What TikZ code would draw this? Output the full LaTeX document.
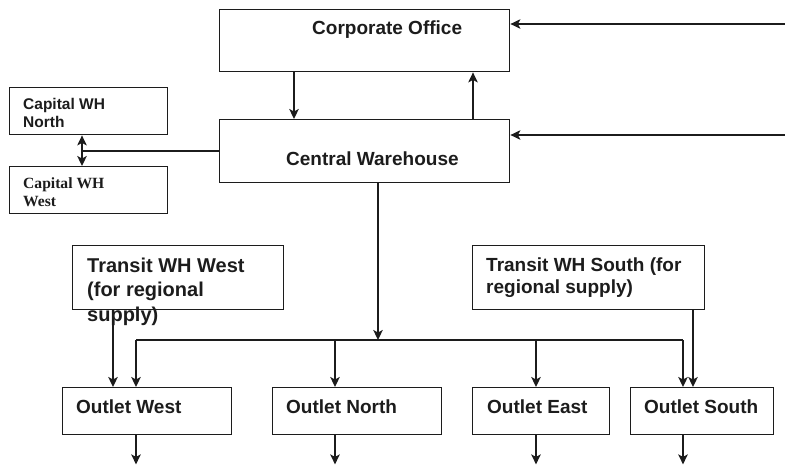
\documentclass[tikz,border=0pt]{standalone}
\usepackage{fontspec}
\setmainfont{Liberation Sans}
\newfontfamily\capserif{Liberation Serif}
\usetikzlibrary{arrows.meta}
\definecolor{ink}{HTML}{1c1c1c}
\begin{document}
\begin{tikzpicture}[x=1pt,y=-1pt,
  box/.style={draw=ink,line width=1.4pt,rectangle,inner sep=0pt,anchor=north west},
  lbl/.style={inner sep=0pt,anchor=base west,text=ink,font=\bfseries},
  link/.style={draw=ink,line width=1.5pt},
  arr/.style={link,-{Stealth[length=10pt,width=9.5pt,inset=2.5pt]}},
  dblarr/.style={link,{Stealth[length=9pt,width=9.5pt,inset=2.5pt]}-{Stealth[length=9pt,width=9.5pt,inset=2.5pt]}}]
\useasboundingbox (0,0) rectangle (785,464);

% boxes
\node[box,minimum width=290pt,minimum height=62pt] (co)  at (219,9)   {};
\node[box,minimum width=290pt,minimum height=63pt] (cw)  at (219,119) {};
\node[box,minimum width=158pt,minimum height=47pt] (cwn) at (9,87)    {};
\node[box,minimum width=158pt,minimum height=47pt] (cww) at (9,166)   {};
\node[box,minimum width=211pt,minimum height=64pt] (tww) at (72,245)  {};
\node[box,minimum width=232pt,minimum height=64pt] (tws) at (472,245) {};
\node[box,minimum width=169pt,minimum height=47pt] (ow)  at (62,387)  {};
\node[box,minimum width=169pt,minimum height=47pt] (on)  at (272,387) {};
\node[box,minimum width=137pt,minimum height=47pt] (oe)  at (472,387) {};
\node[box,minimum width=143pt,minimum height=47pt] (os)  at (630,387) {};

% labels
\node[lbl,font=\bfseries\fontsize{19}{22}\selectfont] (tco) at (312,34)  {Corporate Office};
\node[lbl,font=\bfseries\fontsize{19}{22}\selectfont] (tcw) at (286,165) {Central Warehouse};
\node[lbl,font=\bfseries\fontsize{15.5}{18}\selectfont] (tcwn) at (23,109)
  {\begin{tabular}[t]{@{}l@{}}Capital WH\\North\end{tabular}};
\node[lbl,font=\capserif\bfseries\fontsize{15.6}{18}\selectfont] (tcww) at (23,188)
  {\begin{tabular}[t]{@{}l@{}}Capital WH\\West\end{tabular}};
\node[lbl,font=\bfseries\fontsize{20}{24.5}\selectfont] (ttww) at (87,272)
  {\begin{tabular}[t]{@{}l@{}}Transit WH West\\(for regional\\supply)\end{tabular}};
\node[lbl,font=\bfseries\fontsize{19}{22}\selectfont] (ttws) at (486,271)
  {\begin{tabular}[t]{@{}l@{}}Transit WH South (for\\regional supply)\end{tabular}};
\node[lbl,font=\bfseries\fontsize{19}{22}\selectfont] (tow) at (76,413)  {Outlet West};
\node[lbl,font=\bfseries\fontsize{19}{22}\selectfont] (ton) at (286,413) {Outlet North};
\node[lbl,font=\bfseries\fontsize{19}{22}\selectfont] (toe) at (487,413) {Outlet East};
\node[lbl,font=\bfseries\fontsize{19}{22}\selectfont] (tos) at (644,413) {Outlet South};

% reference points for connectors
\coordinate (inCO) at (785,24);
\coordinate (inCW) at (785,135);
\coordinate (hub)  at (82,151);
\coordinate (busC) at (378,340);
\coordinate (busW) at (136,340);
\coordinate (busN) at (335,340);
\coordinate (busE) at (536,340);
\coordinate (busS) at (683,340);
\coordinate (twwX) at (113,0);
\coordinate (twsX) at (693,0);
\coordinate (coDn) at (294,0);
\coordinate (coUp) at (473,0);

% office and central warehouse
\draw[arr] (coDn |- co.south) -- (coDn |- cw.north);
\draw[arr] (coUp |- cw.north) -- (coUp |- co.south);
\draw[arr] (inCO) -- (inCO -| co.east);
\draw[arr] (inCW) -- (inCW -| cw.east);

% capital warehouses
\draw[link] (hub -| cw.west) -- (hub);
\draw[arr] (hub) -- (hub |- cwn.south);
\draw[arr] (hub) -- (hub |- cww.north);

% distribution to outlets
\draw[arr] (busC |- cw.south) -- (busC);
\draw[link] (busW) -- (busS);
\draw[arr] (busW) -- (busW |- ow.north);
\draw[arr] (busN) -- (busN |- on.north);
\draw[arr] (busE) -- (busE |- oe.north);
\draw[arr] (busS) -- (busS |- os.north);
\draw[arr] (twwX |- tww.south) -- (twwX |- ow.north);
\draw[arr] (twsX |- tws.south) -- (twsX |- os.north);

% outgoing flows
\draw[arr] (busW |- ow.south) -- ++(0,29);
\draw[arr] (busN |- on.south) -- ++(0,29);
\draw[arr] (busE |- oe.south) -- ++(0,29);
\draw[arr] (busS |- os.south) -- ++(0,29);
\end{tikzpicture}
\end{document}
